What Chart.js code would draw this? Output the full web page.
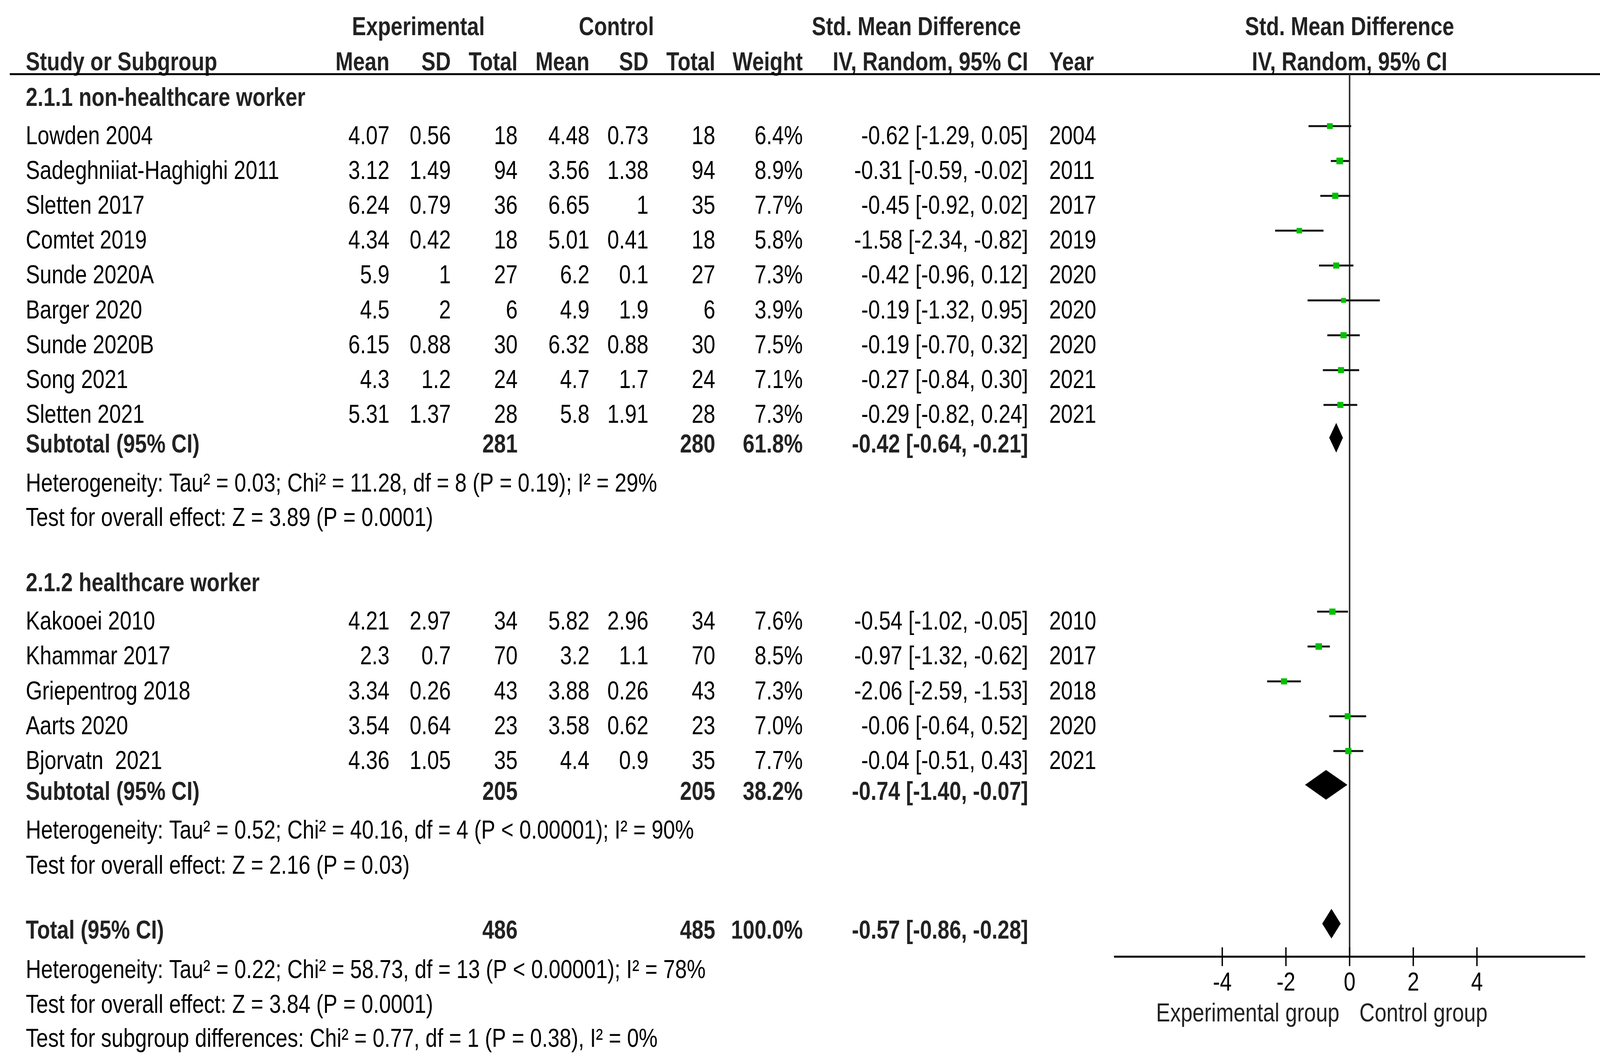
<!DOCTYPE html>
<html>
<head>
<meta charset="utf-8">
<script src="https://cdn.jsdelivr.net/npm/chart.js@4.4.1/dist/chart.umd.min.js"></script>
<style>
  html, body { margin: 0; padding: 0; background: #fff; overflow: hidden; }
  canvas { display: block; }
</style>
</head>
<body>
<canvas id="forest" width="4124" height="2705"></canvas>
<script>
// study rows
const studies = ['Lowden 2004', 'Sadeghniiat-Haghighi 2011', 'Sletten 2017', 'Comtet 2019', 'Sunde 2020A',
    'Barger 2020', 'Sunde 2020B', 'Song 2021', 'Sletten 2021',
    'Kakooei 2010', 'Khammar 2017', 'Griepentrog 2018', 'Aarts 2020', 'Bjorvatn  2021']
const group = [0, 0, 0, 0, 0, 0, 0, 0, 0, 1, 1, 1, 1, 1]
const expMean = [4.07, 3.12, 6.24, 4.34, 5.9, 4.5, 6.15, 4.3, 5.31, 4.21, 2.3, 3.34, 3.54, 4.36]
const expSD = [0.56, 1.49, 0.79, 0.42, 1, 2, 0.88, 1.2, 1.37, 2.97, 0.7, 0.26, 0.64, 1.05]
const expN = [18, 94, 36, 18, 27, 6, 30, 24, 28, 34, 70, 43, 23, 35]
const ctlMean = [4.48, 3.56, 6.65, 5.01, 6.2, 4.9, 6.32, 4.7, 5.8, 5.82, 3.2, 3.88, 3.58, 4.4]
const ctlSD = [0.73, 1.38, 1, 0.41, 0.1, 1.9, 0.88, 1.7, 1.91, 2.96, 1.1, 0.26, 0.62, 0.9]
const ctlN = [18, 94, 35, 18, 27, 6, 30, 24, 28, 34, 70, 43, 23, 35]
const weight = [6.4, 8.9, 7.7, 5.8, 7.3, 3.9, 7.5, 7.1, 7.3, 7.6, 8.5, 7.3, 7.0, 7.7]
const smd = [-0.62, -0.31, -0.45, -1.58, -0.42, -0.19, -0.19, -0.27, -0.29, -0.54, -0.97, -2.06, -0.06, -0.04]
const ciLow = [-1.29, -0.59, -0.92, -2.34, -0.96, -1.32, -0.70, -0.84, -0.82, -1.02, -1.32, -2.59, -0.64, -0.51]
const ciHigh = [0.05, -0.02, 0.02, -0.82, 0.12, 0.95, 0.32, 0.30, 0.24, -0.05, -0.62, -1.53, 0.52, 0.43]
const years = [2004, 2011, 2017, 2019, 2020, 2020, 2020, 2021, 2021, 2010, 2017, 2018, 2020, 2021]

// subgroups
const groupNames = ['2.1.1 non-healthcare worker', '2.1.2 healthcare worker']
const subExpN = [281, 205]
const subCtlN = [280, 205]
const subWeight = [61.8, 38.2]
const subSmd = [-0.42, -0.74]
const subLow = [-0.64, -1.40]
const subHigh = [-0.21, -0.07]
const subHet = ['Heterogeneity: Tau² = 0.03; Chi² = 11.28, df = 8 (P = 0.19); I² = 29%',
    'Heterogeneity: Tau² = 0.52; Chi² = 40.16, df = 4 (P < 0.00001); I² = 90%']
const subTest = ['Test for overall effect: Z = 3.89 (P = 0.0001)', 'Test for overall effect: Z = 2.16 (P = 0.03)']

// overall
const totExpN = 486
const totCtlN = 485
const totWeight = 100.0
const totSmd = -0.57
const totLow = -0.86
const totHigh = -0.28
const totNotes = ['Heterogeneity: Tau² = 0.22; Chi² = 58.73, df = 13 (P < 0.00001); I² = 78%',
    'Test for overall effect: Z = 3.84 (P = 0.0001)',
    'Test for subgroup differences: Chi² = 0.77, df = 1 (P = 0.38), I² = 0%']

const axisTicks = [-4, -2, 0, 2, 4]
const axisLabels = ['Experimental group', 'Control group']

// ---- layout (row slots on the y scale, pixel columns) ----
const studySlot = [0, 1, 2, 3, 4, 5, 6, 7, 8, 13.93, 14.93, 15.93, 16.93, 17.93]
const groupSlot = [-1.10, 12.83]
const subSlot = [8.85, 18.81]
const hetSlot = [9.97, 19.93]
const testSlot = [10.96, 20.93]
const totalSlot = 22.79
const totNoteSlot = [23.93, 24.93, 25.90]
const head1Slot = -3.12, head2Slot = -2.11, ruleSlot = -1.74
const axisSlot = 23.58, tickLblSlot = 24.29, axisTitleSlot = 25.17
const markShift = -0.25, diamondShift = -0.16

const col = { name: 66, eMean: 997, eSD: 1154, eN: 1325, cMean: 1509, cSD: 1660, cN: 1831,
    w: 2055, ci: 2632, year: 2686 }

const FS = 66
const CAP = FS * 0.716
const SX = 0.82
const FONT = '"Liberation Sans", Arial, sans-serif'

const f2 = v => v.toFixed(2)
const ciText = (m, l, h) => f2(m) + ' [' + f2(l) + ', ' + f2(h) + ']'

function txt(ctx, s, x, yc, align, bold, color) {
    ctx.save()
    ctx.font = (bold ? 'bold ' : '') + FS + 'px ' + FONT
    ctx.fillStyle = color || (bold ? '#222' : '#000')
    ctx.textAlign = align
    ctx.textBaseline = 'alphabetic'
    ctx.translate(x, yc + CAP / 2)
    ctx.scale(SX, 1)
    ctx.fillText(s, 0, 0)
    ctx.restore()
}

const forestPlugin = {
    id: 'forest',
    beforeDatasetsDraw(chart) {
        const ctx = chart.ctx
        const xs = chart.scales.x, ys = chart.scales.y
        const Y = v => ys.getPixelForValue(v)
        const X = v => xs.getPixelForValue(v)

        // table text
        txt(ctx, 'Experimental', 1071, Y(head1Slot), 'center', true)
        txt(ctx, 'Control', 1578, Y(head1Slot), 'center', true)
        txt(ctx, 'Std. Mean Difference', 2346, Y(head1Slot), 'center', true)
        txt(ctx, 'Std. Mean Difference', X(0), Y(head1Slot), 'center', true)
        const h2 = Y(head2Slot)
        txt(ctx, 'Study or Subgroup', col.name, h2, 'left', true)
        txt(ctx, 'Mean', col.eMean, h2, 'right', true)
        txt(ctx, 'SD', col.eSD, h2, 'right', true)
        txt(ctx, 'Total', col.eN, h2, 'right', true)
        txt(ctx, 'Mean', col.cMean, h2, 'right', true)
        txt(ctx, 'SD', col.cSD, h2, 'right', true)
        txt(ctx, 'Total', col.cN, h2, 'right', true)
        txt(ctx, 'Weight', col.w, h2, 'right', true)
        txt(ctx, 'IV, Random, 95% CI', col.ci, h2, 'right', true)
        txt(ctx, 'Year', col.year, h2, 'left', true)
        txt(ctx, 'IV, Random, 95% CI', X(0), h2, 'center', true)

        // header rule
        ctx.save()
        ctx.strokeStyle = '#000'
        ctx.lineWidth = 5
        ctx.beginPath()
        ctx.moveTo(25, Y(ruleSlot))
        ctx.lineTo(4107, Y(ruleSlot))
        ctx.stroke()
        ctx.restore()

        studies.forEach((s, i) => {
            const y = Y(studySlot[i])
            txt(ctx, s, col.name, y, 'left')
            txt(ctx, String(expMean[i]), col.eMean, y, 'right')
            txt(ctx, String(expSD[i]), col.eSD, y, 'right')
            txt(ctx, String(expN[i]), col.eN, y, 'right')
            txt(ctx, String(ctlMean[i]), col.cMean, y, 'right')
            txt(ctx, String(ctlSD[i]), col.cSD, y, 'right')
            txt(ctx, String(ctlN[i]), col.cN, y, 'right')
            txt(ctx, weight[i].toFixed(1) + '%', col.w, y, 'right')
            txt(ctx, ciText(smd[i], ciLow[i], ciHigh[i]), col.ci, y, 'right')
            txt(ctx, String(years[i]), col.year, y, 'left')
        })

        groupNames.forEach((g, k) => {
            txt(ctx, g, col.name, Y(groupSlot[k]), 'left', true)
            const y = Y(subSlot[k])
            txt(ctx, 'Subtotal (95% CI)', col.name, y, 'left', true)
            txt(ctx, String(subExpN[k]), col.eN, y, 'right', true)
            txt(ctx, String(subCtlN[k]), col.cN, y, 'right', true)
            txt(ctx, subWeight[k].toFixed(1) + '%', col.w, y, 'right', true)
            txt(ctx, ciText(subSmd[k], subLow[k], subHigh[k]), col.ci, y, 'right', true)
            txt(ctx, subHet[k], col.name, Y(hetSlot[k]), 'left')
            txt(ctx, subTest[k], col.name, Y(testSlot[k]), 'left')
        })

        const yt = Y(totalSlot)
        txt(ctx, 'Total (95% CI)', col.name, yt, 'left', true)
        txt(ctx, String(totExpN), col.eN, yt, 'right', true)
        txt(ctx, String(totCtlN), col.cN, yt, 'right', true)
        txt(ctx, totWeight.toFixed(1) + '%', col.w, yt, 'right', true)
        txt(ctx, ciText(totSmd, totLow, totHigh), col.ci, yt, 'right', true)
        totNotes.forEach((n, k) => txt(ctx, n, col.name, Y(totNoteSlot[k]), 'left'))

        // zero line
        ctx.save()
        ctx.strokeStyle = '#333'
        ctx.lineWidth = 4
        ctx.beginPath()
        ctx.moveTo(X(0), Y(ruleSlot))
        ctx.lineTo(X(0), Y(axisSlot))
        ctx.stroke()

        // axis
        const ya = Y(axisSlot)
        ctx.strokeStyle = '#000'
        ctx.lineWidth = 5
        ctx.beginPath()
        ctx.moveTo(X(-7.4), ya)
        ctx.lineTo(X(7.4), ya)
        ctx.stroke()
        ctx.lineWidth = 3.5
        axisTicks.forEach(t => {
            ctx.beginPath()
            ctx.moveTo(X(t), ya - 24)
            ctx.lineTo(X(t), ya + 24)
            ctx.stroke()
            txt(ctx, String(t), X(t), Y(tickLblSlot), 'center')
        })
        ctx.restore()
        txt(ctx, axisLabels[0], X(-3.2), Y(axisTitleSlot), 'center', false, '#222')
        txt(ctx, axisLabels[1], X(2.32), Y(axisTitleSlot), 'center', false, '#222')

        // CI whiskers
        ctx.save()
        ctx.strokeStyle = '#111'
        ctx.lineWidth = 5
        studies.forEach((s, i) => {
            const y = Y(studySlot[i] + markShift)
            ctx.beginPath()
            ctx.moveTo(X(ciLow[i]), y)
            ctx.lineTo(X(ciHigh[i]), y)
            ctx.stroke()
        })
        ctx.restore()

        // diamonds
        const diamond = (m, l, h, slot) => {
            const y = Y(slot + diamondShift)
            ctx.beginPath()
            ctx.moveTo(X(l), y)
            ctx.lineTo(X(m), y - 38)
            ctx.lineTo(X(h), y)
            ctx.lineTo(X(m), y + 38)
            ctx.closePath()
            ctx.fill()
        }
        ctx.save()
        ctx.fillStyle = '#000'
        subSmd.forEach((m, k) => diamond(m, subLow[k], subHigh[k], subSlot[k]))
        diamond(totSmd, totLow, totHigh, totalSlot)
        ctx.restore()
    }
}

new Chart('forest', {
    type: 'scatter',
    data: {
        datasets: [{
            label: 'SMD',
            data: smd.map((v, i) => ({ x: v, y: studySlot[i] + markShift })),
            pointStyle: 'rect',
            pointRadius: weight.map(w => (9 + w * 0.9) / Math.SQRT2),
            pointHoverRadius: 0,
            backgroundColor: '#00C000',
            borderWidth: 0,
            clip: false,
        }],
    },
    options: {
        responsive: false,
        animation: false,
        devicePixelRatio: 1,
        events: [],
        layout: { padding: 0, autoPadding: false },
        plugins: { legend: { display: false }, tooltip: { enabled: false } },
        scales: {
            x: { type: 'linear', min: -42.393, max: 8.209, display: false },
            y: { type: 'linear', min: -3.868, max: 26.457, reverse: true, display: false },
        }
    },
    plugins: [forestPlugin]
});
</script>
</body>
</html>
